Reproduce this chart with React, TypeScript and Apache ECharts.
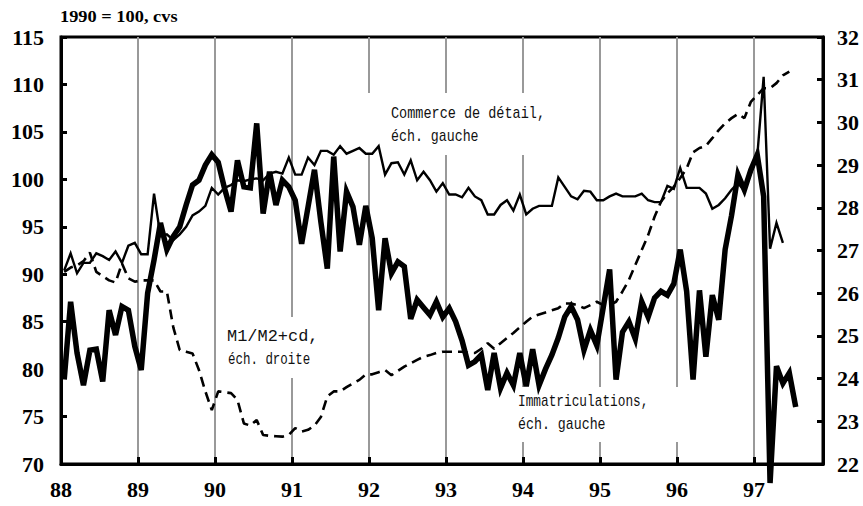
import React, { useEffect, useRef } from "react";
import * as echarts from "echarts";

// Year tick labels (x axis, one every 12 months starting Jan 1988)
const yearLabels = ["88", "89", "90", "91", "92", "93", "94", "95", "96", "97"];

// Commerce de détail (left scale), monthly from Jan 1988
const commerce = [
  90.4, 92.2, 90.1, 91.2, 91.2, 92.2, 91.9, 91.5, 92.4, 91.2, 93.0, 93.3,
  92.1, 92.1, 98.5, 94.0, 94.2, 93.6, 94.2, 95.0, 96.2, 96.6, 97.2, 99.1,
  98.4, 99.1, 99.4, 99.9, 99.8, 100.0, 100.1, 99.9, 100.6, 100.8, 100.6, 102.3,
  100.5, 100.5, 102.3, 101.5, 103.0, 103.0, 102.6, 103.5, 102.7, 103.0, 103.3, 102.7,
  102.7, 103.5, 100.5, 101.7, 101.8, 100.5, 102.0, 99.9, 100.8, 99.9, 98.7, 99.6,
  98.4, 98.4, 98.1, 99.1, 98.2, 97.8, 96.3, 96.3, 97.3, 97.8, 96.7, 98.4,
  96.3, 96.9, 97.2, 97.2, 97.2, 100.2, 99.2, 98.2, 97.9, 98.8, 98.7, 97.8,
  97.8, 98.2, 98.5, 98.2, 98.2, 98.2, 98.5, 97.8, 97.6, 97.6, 99.3, 99.0,
  101.2, 99.1, 99.1, 99.1, 98.5, 96.9, 97.3, 98.0, 98.9, 99.6, 98.8, 100.6,
  102.4, 110.8, 92.7, 95.4, 93.3,
];

// Immatriculations (left scale), monthly from Jan 1988
const immatriculations = [
  78.9, 87.1, 81.7, 78.3, 82.0, 82.1, 78.7, 86.2, 83.6, 86.6, 86.2, 82.4,
  79.9, 88.0, 91.5, 95.4, 92.6, 94.0, 95.0, 97.3, 99.4, 99.9, 101.5, 102.6,
  101.8, 99.0, 96.6, 102.0, 99.2, 99.1, 105.9, 96.4, 100.8, 97.3, 99.9, 99.2,
  97.8, 93.2, 97.1, 101.0, 95.5, 90.6, 102.4, 92.4, 98.7, 97.1, 93.1, 97.2,
  93.8, 86.2, 93.8, 90.1, 91.3, 90.8, 85.3, 87.3, 86.5, 85.7, 87.1, 85.5,
  86.4, 85.0, 83.0, 80.4, 80.8, 81.5, 77.8, 81.7, 78.0, 79.6, 78.3, 81.7,
  78.2, 82.1, 78.3, 80.0, 81.5, 83.3, 85.5, 86.6, 85.2, 82.0, 84.1, 82.5,
  86.5, 90.5, 78.9, 83.9, 85.0, 83.2, 87.1, 85.5, 87.5, 88.2, 87.8, 89.0,
  92.6, 88.2, 78.9, 88.3, 81.3, 87.8, 85.2, 92.6, 96.2, 100.5, 98.9, 101.0,
  102.6, 98.2, 68.0, 80.3, 78.5, 79.6, 76.0,
];

// M1/M2+cd (right scale), monthly from Jan 1988
const m1m2 = [
  26.5, 26.6, 26.65, 26.75, 26.95, 26.5, 26.4, 26.3, 26.25, 26.7, 26.35, 26.27,
  26.3, 26.3, 26.3, 26.04, 26.04, 25.2, 24.67, 24.63, 24.59, 24.2, 23.7, 23.26,
  23.7, 23.68, 23.66, 23.5, 22.95, 22.9, 23.03, 22.68, 22.66, 22.65, 22.64, 22.68,
  22.84, 22.76, 22.8, 22.9, 23.1, 23.58, 23.7, 23.7, 23.8, 23.89, 23.97, 24.1,
  24.1, 24.15, 24.2, 24.08, 24.18, 24.28, 24.36, 24.44, 24.51, 24.55, 24.6, 24.63,
  24.63, 24.63, 24.63, 24.6, 24.6, 24.7, 24.83, 24.7, 24.83, 24.95, 25.07, 25.2,
  25.33, 25.45, 25.5, 25.55, 25.6, 25.65, 25.76, 25.76, 25.72, 25.65, 25.72, 25.8,
  25.72, 25.72, 25.8, 26.04, 26.31, 26.66, 27.01, 27.36, 27.79, 28.14, 28.34, 28.49,
  28.7, 28.92, 29.3, 29.4, 29.45, 29.63, 29.82, 29.98, 30.1, 30.2, 30.1, 30.48,
  30.64, 30.8, 30.8, 30.92, 31.1, 31.19,
];

const toPoints = (arr: number[]) => arr.map((v, i) => [i + 0.5, v]);

const monoFont = '16px "Liberation Mono", "DejaVu Sans Mono", monospace';

function label(text: string, x: number, y: number, scaleX: number) {
  return {
    type: "text",
    x,
    y,
    scaleX,
    z: 5,
    silent: true,
    style: {
      text,
      x: 0,
      y: 0,
      font: monoFont,
      fill: "#111",
      align: "left",
      textAlign: "left",
      verticalAlign: "middle",
      textVerticalAlign: "middle",
    },
  };
}

export default function App() {
  const ref = useRef<HTMLDivElement>(null);

  useEffect(() => {
    if (!ref.current) return;
    const chart = echarts.init(ref.current, null, { renderer: "svg" });
    const axisLabelStyle = {
      fontFamily: '"Liberation Serif", "Times New Roman", serif',
      fontWeight: "bold",
      fontSize: 22,
      color: "#000",
    };
    chart.setOption({
      animation: false,
      backgroundColor: "#fff",
      grid: {
        left: 61,
        right: 40,
        top: 37,
        bottom: 42,
        show: true,
        borderColor: "#000",
        borderWidth: 3,
        backgroundColor: "transparent",
      },
      xAxis: {
        type: "value",
        min: 0,
        max: 118.75,
        interval: 12,
        z: 0,
        axisLine: { show: true, lineStyle: { color: "#000", width: 3 } },
        axisTick: { show: true, inside: true, length: 7, lineStyle: { color: "#000", width: 3 } },
        axisLabel: {
          ...axisLabelStyle,
          margin: 14,
          formatter: (v: number) => {
            const k = Math.round(v / 12);
            return Math.abs(v - k * 12) < 1e-6 && k < yearLabels.length ? yearLabels[k] : "";
          },
        },
        splitLine: { show: true, lineStyle: { color: "#999", width: 2 } },
      },
      yAxis: [
        {
          type: "value",
          position: "left",
          min: 70,
          max: 115,
          interval: 5,
          z: 1,
          axisLine: { show: true, lineStyle: { color: "#000", width: 3 } },
          axisTick: { show: true, inside: true, length: 6, lineStyle: { color: "#000", width: 3 } },
          axisLabel: { ...axisLabelStyle, margin: 17 },
          splitLine: { show: false },
        },
        {
          type: "value",
          position: "right",
          min: 22,
          max: 32,
          interval: 1,
          z: 1,
          axisLine: { show: true, lineStyle: { color: "#000", width: 3 } },
          axisTick: { show: true, inside: true, length: 6, lineStyle: { color: "#000", width: 3 } },
          axisLabel: { ...axisLabelStyle, margin: 14 },
          splitLine: { show: false },
        },
      ],
      series: [
        {
          name: "M1/M2+cd",
          type: "line",
          yAxisIndex: 1,
          data: toPoints(m1m2),
          symbol: "none",
          silent: true,
          z: 3,
          lineStyle: { color: "#000", width: 2.6, type: [10, 6], cap: "butt" },
        },
        {
          name: "Commerce de détail",
          type: "line",
          yAxisIndex: 0,
          data: toPoints(commerce),
          symbol: "none",
          silent: true,
          z: 3,
          lineStyle: { color: "#000", width: 2.4, join: "miter", miterLimit: 6 },
        },
        {
          name: "Immatriculations",
          type: "line",
          yAxisIndex: 0,
          data: toPoints(immatriculations),
          symbol: "none",
          silent: true,
          clip: false,
          z: 4,
          lineStyle: { color: "#000", width: 5.5, join: "miter", miterLimit: 4 },
        },
      ],
      graphic: [
        { type: "rect", z: 1, silent: true, shape: { x: 362, y: 93, width: 190, height: 62 }, style: { fill: "#fff" } },
        { type: "rect", z: 1, silent: true, shape: { x: 222, y: 317, width: 105, height: 61 }, style: { fill: "#fff" } },
        { type: "rect", z: 1, silent: true, shape: { x: 512, y: 387, width: 175, height: 55 }, style: { fill: "#fff" } },
        label("Commerce de détail,", 391, 114, 0.845),
        label("éch. gauche", 391, 137, 0.83),
        label("M1/M2+cd,", 227, 337, 1.06),
        label("éch. droite", 228, 360, 0.78),
        label("Immatriculations,", 518, 402, 0.8),
        label("éch. gauche", 518, 425, 0.83),
        {
          type: "text",
          x: 60,
          y: 16,
          z: 5,
          scaleX: 1.08,
          silent: true,
          style: {
            text: "1990 = 100, cvs",
            x: 0,
            y: 0,
            font: 'bold 17px "Liberation Serif", "Times New Roman", serif',
            fill: "#000",
            align: "left",
            textAlign: "left",
            verticalAlign: "middle",
            textVerticalAlign: "middle",
          },
        },
      ],
    });
    return () => chart.dispose();
  }, []);

  return (
    <div
      ref={ref}
      style={{ position: "fixed", left: 0, top: 0, width: 863, height: 506, background: "#fff" }}
    />
  );
}
